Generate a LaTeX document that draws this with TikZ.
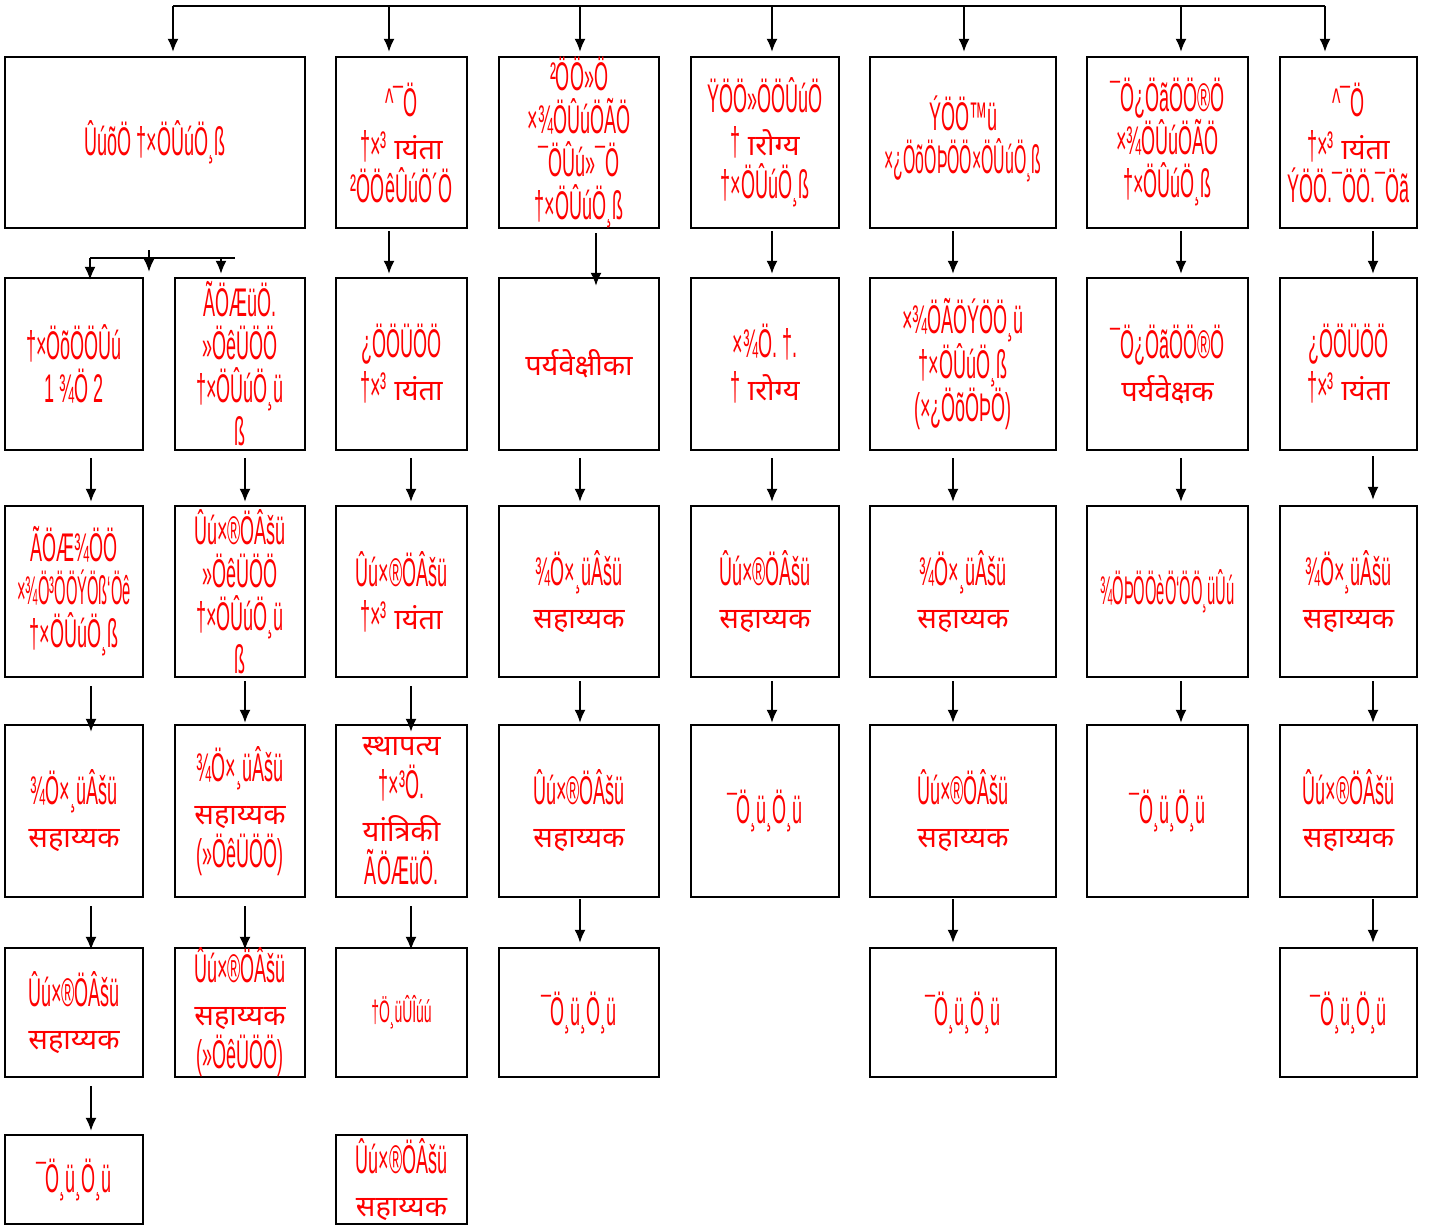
\documentclass[tikz,border=0pt]{standalone}
\usepackage{fontspec}
\setmainfont{Liberation Sans}[FakeStretch=0.45]
\newfontfamily\deva[Script=Devanagari]{Noto Sans}
\usetikzlibrary{arrows.meta}
\newcommand{\dv}[1]{{\deva\fontsize{29}{43}\selectfont #1}}
\newcommand{\dvm}[1]{{\deva\fontsize{29}{43}\selectfont ^^a0#1}}
\newcommand{\narrow}[1]{\scalebox{0.82}[1]{#1}}
\tikzset{
  box/.style={draw=black, line width=2.4pt, fill=white, inner sep=0pt},
  txt/.style={text=red, align=center, inner sep=0pt, font=\fontsize{40}{43}\selectfont},
  line/.style={draw=black, line width=1.6pt},
  arr/.style={line, -{Latex[length=13pt,width=11pt]}}
}
\begin{document}
\begin{tikzpicture}[x=1pt,y=-1pt]
\useasboundingbox[fill=white] (0,0) rectangle (1429,1225);
% ---------------- boxes ----------------
% row 1
\node[box, minimum width=300pt, minimum height=171pt] (r1a) at (155,142.5) {};
\node[box, minimum width=131pt, minimum height=171pt] (r1c) at (401.5,142.5) {};
\node[box, minimum width=160pt, minimum height=171pt] (r1d) at (579,142.5) {};
\node[box, minimum width=148pt, minimum height=171pt] (r1e) at (765,142.5) {};
\node[box, minimum width=186pt, minimum height=171pt] (r1f) at (963,142.5) {};
\node[box, minimum width=161pt, minimum height=171pt] (r1g) at (1167.5,142.5) {};
\node[box, minimum width=137pt, minimum height=171pt] (r1h) at (1348.5,142.5) {};
% row 2
\node[box, minimum width=138pt, minimum height=172pt] (r2a) at (74,364) {};
\node[box, minimum width=130pt, minimum height=172pt] (r2b) at (240,364) {};
\node[box, minimum width=131pt, minimum height=172pt] (r2c) at (401.5,364) {};
\node[box, minimum width=160pt, minimum height=172pt] (r2d) at (579,364) {};
\node[box, minimum width=148pt, minimum height=172pt] (r2e) at (765,364) {};
\node[box, minimum width=186pt, minimum height=172pt] (r2f) at (963,364) {};
\node[box, minimum width=161pt, minimum height=172pt] (r2g) at (1167.5,364) {};
\node[box, minimum width=137pt, minimum height=172pt] (r2h) at (1348.5,364) {};
% row 3
\node[box, minimum width=138pt, minimum height=171pt] (r3a) at (74,591.5) {};
\node[box, minimum width=130pt, minimum height=171pt] (r3b) at (240,591.5) {};
\node[box, minimum width=131pt, minimum height=171pt] (r3c) at (401.5,591.5) {};
\node[box, minimum width=160pt, minimum height=171pt] (r3d) at (579,591.5) {};
\node[box, minimum width=148pt, minimum height=171pt] (r3e) at (765,591.5) {};
\node[box, minimum width=186pt, minimum height=171pt] (r3f) at (963,591.5) {};
\node[box, minimum width=161pt, minimum height=171pt] (r3g) at (1167.5,591.5) {};
\node[box, minimum width=137pt, minimum height=171pt] (r3h) at (1348.5,591.5) {};
% row 4
\node[box, minimum width=138pt, minimum height=172pt] (r4a) at (74,811) {};
\node[box, minimum width=130pt, minimum height=172pt] (r4b) at (240,811) {};
\node[box, minimum width=131pt, minimum height=172pt] (r4c) at (401.5,811) {};
\node[box, minimum width=160pt, minimum height=172pt] (r4d) at (579,811) {};
\node[box, minimum width=148pt, minimum height=172pt] (r4e) at (765,811) {};
\node[box, minimum width=186pt, minimum height=172pt] (r4f) at (963,811) {};
\node[box, minimum width=161pt, minimum height=172pt] (r4g) at (1167.5,811) {};
\node[box, minimum width=137pt, minimum height=172pt] (r4h) at (1348.5,811) {};
% row 5
\node[box, minimum width=138pt, minimum height=129pt] (r5a) at (74,1012.5) {};
\node[box, minimum width=130pt, minimum height=129pt] (r5b) at (240,1012.5) {};
\node[box, minimum width=131pt, minimum height=129pt] (r5c) at (401.5,1012.5) {};
\node[box, minimum width=160pt, minimum height=129pt] (r5d) at (579,1012.5) {};
\node[box, minimum width=186pt, minimum height=129pt] (r5f) at (963,1012.5) {};
\node[box, minimum width=137pt, minimum height=129pt] (r5h) at (1348.5,1012.5) {};
% row 6
\node[box, minimum width=138pt, minimum height=89pt] (r6a) at (74,1179.5) {};
\node[box, minimum width=131pt, minimum height=89pt] (r6c) at (401.5,1179.5) {};
% ---------------- texts ----------------
\node[txt] (t1a) at (r1a) {ÛúõÖ †×ÖÛúÖ¸ß};
\node[txt] (t1c) at (r1c) {\textasciicircum¯Ö\\†×³\dvm{ायंता}\\²ÖÖêÛúÖ´Ö};
\node[txt] (t1d) at (r1d) {²ÖÖ»Ö\\×¾ÖÛúÖÃÖ\\¯ÖÛú»¯Ö\\†×ÖÛúÖ¸ß};
\node[txt] (t1e) at (r1e) {ŸÖÖ»ÖÖÛúÖ\\†\dvm{ारोग्य}\\†×ÖÛúÖ¸ß};
\node[txt] (t1f) at ([yshift=4pt]r1f) {ÝÖÖ™ü\\\scalebox{0.88}[1]{×¿ÖõÖÞÖÖ×ÖÛúÖ¸ß}};
\node[txt] (t1g) at (r1g) {¯Ö¿ÖãÖÖ®Ö\\×¾ÖÛúÖÃÖ\\†×ÖÛúÖ¸ß};
\node[txt] (t1h) at (r1h) {\textasciicircum¯Ö\\†×³\dvm{ायंता}\\ÝÖÖ.¯ÖÖ.¯Öã};
\node[txt] (t2a) at (r2a) {†×ÖõÖÖÛú\\1 ¾Ö 2};
\node[txt] (t2b) at (r2b) {ÃÖÆüÖ.\\»ÖêÜÖÖ\\†×ÖÛúÖ¸ü\\ß};
\node[txt] (t2c) at (r2c) {¿ÖÖÜÖÖ\\†×³\dvm{ायंता}};
\node[txt] (t2d) at (r2d) {\dv{पर्यवेक्षीका}};
\node[txt] (t2e) at (r2e) {×¾Ö. †.\\†\dvm{ारोग्य}};
\node[txt] (t2f) at (r2f) {×¾ÖÃÖÝÖÖ¸ü\\†×ÖÛúÖ¸ß\\(×¿ÖõÖÞÖ)};
\node[txt] (t2g) at (r2g) {¯Ö¿ÖãÖÖ®Ö\\\dv{पर्यवेक्षक}};
\node[txt] (t2h) at (r2h) {¿ÖÖÜÖÖ\\†×³\dvm{ायंता}};
\node[txt] (t3a) at (r3a) {ÃÖÆ¾ÖÖ\\\narrow{×¾Ö³ÖÖÝÖß‘Öê}\\†×ÖÛúÖ¸ß};
\node[txt] (t3b) at (r3b) {Ûú×®ÖÂšü\\»ÖêÜÖÖ\\†×ÖÛúÖ¸ü\\ß};
\node[txt] (t3c) at (r3c) {Ûú×®ÖÂšü\\†×³\dvm{ायंता}};
\node[txt] (t3d) at (r3d) {¾Ö×{}^^b8üÂšü\\\dv{सहाय्यक}};
\node[txt] (t3e) at (r3e) {Ûú×®ÖÂšü\\\dv{सहाय्यक}};
\node[txt] (t3f) at (r3f) {¾Ö×{}^^b8üÂšü\\\dv{सहाय्यक}};
\node[txt] (t3g) at (r3g) {\narrow{¾ÖÞÖÖèÖ‘ÖÖ¸üÛú}};
\node[txt] (t3h) at (r3h) {¾Ö×{}^^b8üÂšü\\\dv{सहाय्यक}};
\node[txt] (t4a) at (r4a) {¾Ö×{}^^b8üÂšü\\\dv{सहाय्यक}};
\node[txt] (t4b) at (r4b) {¾Ö×{}^^b8üÂšü\\\dv{सहाय्यक}\\(»ÖêÜÖÖ)};
\node[txt] (t4c) at (r4c) {\dv{स्थापत्य}\\†×³Ö.\\\dv{यांत्रिकी}\\ÃÖÆüÖ.};
\node[txt] (t4d) at (r4d) {Ûú×®ÖÂšü\\\dv{सहाय्यक}};
\node[txt] (t4e) at (r4e) {¯Ö¸ü¸Ö¸ü};
\node[txt] (t4f) at (r4f) {Ûú×®ÖÂšü\\\dv{सहाय्यक}};
\node[txt] (t4g) at (r4g) {¯Ö¸ü¸Ö¸ü};
\node[txt] (t4h) at (r4h) {Ûú×®ÖÂšü\\\dv{सहाय्यक}};
\node[txt] (t5a) at (r5a) {Ûú×®ÖÂšü\\\dv{सहाय्यक}};
\node[txt] (t5b) at (r5b) {Ûú×®ÖÂšü\\\dv{सहाय्यक}\\(»ÖêÜÖÖ)};
\node[txt, font=\fontsize{31}{36}\selectfont] (t5c) at (r5c) {†Ö¸üÛÎúú};
\node[txt] (t5d) at (r5d) {¯Ö¸ü¸Ö¸ü};
\node[txt] (t5f) at (r5f) {¯Ö¸ü¸Ö¸ü};
\node[txt] (t5h) at (r5h) {¯Ö¸ü¸Ö¸ü};
\node[txt] (t6a) at (r6a) {¯Ö¸ü¸Ö¸ü};
\node[txt] (t6c) at (r6c) {Ûú×®ÖÂšü\\\dv{सहाय्यक}};
% ---------------- connectors ----------------
\coordinate (busL) at (173,6);
\coordinate (busR) at (1325,6);
\draw[line] (busL) -- (busR);
\draw[arr] (busL) -- ([xshift=18pt,yshift=4pt]r1a.north);
\draw[arr] ([xshift=-12.5pt]r1c.north |- busL) -- ([xshift=-12.5pt,yshift=4pt]r1c.north);
\draw[arr] ([xshift=1pt]r1d.north |- busL) -- ([xshift=1pt,yshift=4pt]r1d.north);
\draw[arr] ([xshift=7pt]r1e.north |- busL) -- ([xshift=7pt,yshift=4pt]r1e.north);
\draw[arr] ([xshift=1pt]r1f.north |- busL) -- ([xshift=1pt,yshift=4pt]r1f.north);
\draw[arr] ([xshift=13.5pt]r1g.north |- busL) -- ([xshift=13.5pt,yshift=4pt]r1g.north);
\draw[arr] (busR) -- ([xshift=-23.5pt,yshift=4pt]r1h.north);
% row 1 -> row 2, first column pair
\coordinate (sL) at (90,258);
\coordinate (sR) at (235,258);
\coordinate (sM) at (149,250);
\coordinate (sB) at (221,258);
\draw[line] (sL) -- (sR);
\draw[arr] (sL) -- ([xshift=16pt,yshift=-3pt]r2a.north);
\draw[arr] (sM) -- ([xshift=75pt,yshift=5pt]r2a.north);
\draw[arr] (sB) -- ([xshift=-19pt,yshift=3pt]r2b.north);
% row 1 -> row 2
\draw[arr] ([xshift=-12.5pt,yshift=-2pt]r1c.south) -- ([xshift=-12.5pt,yshift=3pt]r2c.north);
\draw[arr] ([xshift=17pt,yshift=-4pt]r1d.south) -- ([xshift=17pt,yshift=-9pt]r2d.north);
\draw[arr] ([xshift=7pt,yshift=-2pt]r1e.south) -- ([xshift=7pt,yshift=3pt]r2e.north);
\draw[arr] ([xshift=-10pt,yshift=-2pt]r1f.south) -- ([xshift=-10pt,yshift=3pt]r2f.north);
\draw[arr] ([xshift=13.5pt,yshift=-2pt]r1g.south) -- ([xshift=13.5pt,yshift=3pt]r2g.north);
\draw[arr] ([xshift=24.5pt,yshift=-2pt]r1h.south) -- ([xshift=24.5pt,yshift=3pt]r2h.north);
% row 2 -> row 3
\draw[arr] ([xshift=17pt,yshift=-7pt]r2a.south) -- ([xshift=17pt,yshift=3pt]r3a.north);
\draw[arr] ([xshift=5pt,yshift=-7pt]r2b.south) -- ([xshift=5pt,yshift=3pt]r3b.north);
\draw[arr] ([xshift=9.5pt,yshift=-7pt]r2c.south) -- ([xshift=9.5pt,yshift=3pt]r3c.north);
\draw[arr] ([xshift=1pt,yshift=-7pt]r2d.south) -- ([xshift=1pt,yshift=3pt]r3d.north);
\draw[arr] ([xshift=7pt,yshift=-7pt]r2e.south) -- ([xshift=7pt,yshift=3pt]r3e.north);
\draw[arr] ([xshift=-10pt,yshift=-7pt]r2f.south) -- ([xshift=-10pt,yshift=3pt]r3f.north);
\draw[arr] ([xshift=13.5pt,yshift=-7pt]r2g.south) -- ([xshift=13.5pt,yshift=3pt]r3g.north);
\draw[arr] ([xshift=24.5pt,yshift=-5pt]r2h.south) -- ([xshift=24.5pt,yshift=5pt]r3h.north);
% row 3 -> row 4
\draw[arr] ([xshift=17pt,yshift=-8pt]r3a.south) -- ([xshift=17pt,yshift=-8pt]r4a.north);
\draw[arr] ([xshift=5pt,yshift=-3pt]r3b.south) -- ([xshift=5pt,yshift=1pt]r4b.north);
\draw[arr] ([xshift=9.5pt,yshift=-8pt]r3c.south) -- ([xshift=9.5pt,yshift=-8pt]r4c.north);
\draw[arr] ([xshift=1pt,yshift=-3pt]r3d.south) -- ([xshift=1pt,yshift=1pt]r4d.north);
\draw[arr] ([xshift=7pt,yshift=-3pt]r3e.south) -- ([xshift=7pt,yshift=1pt]r4e.north);
\draw[arr] ([xshift=-10pt,yshift=-3pt]r3f.south) -- ([xshift=-10pt,yshift=1pt]r4f.north);
\draw[arr] ([xshift=13.5pt,yshift=-3pt]r3g.south) -- ([xshift=13.5pt,yshift=1pt]r4g.north);
\draw[arr] ([xshift=24.5pt,yshift=-3pt]r3h.south) -- ([xshift=24.5pt,yshift=1pt]r4h.north);
% row 4 -> row 5
\draw[arr] ([xshift=17pt,yshift=-8pt]r4a.south) -- ([xshift=17pt,yshift=-3pt]r5a.north);
\draw[arr] ([xshift=5pt,yshift=-8pt]r4b.south) -- ([xshift=5pt,yshift=-3pt]r5b.north);
\draw[arr] ([xshift=9.5pt,yshift=-8pt]r4c.south) -- ([xshift=9.5pt,yshift=-3pt]r5c.north);
\draw[arr] ([xshift=1pt,yshift=-1pt]r4d.south) -- ([xshift=1pt,yshift=4pt]r5d.north);
\draw[arr] ([xshift=-10pt,yshift=-1pt]r4f.south) -- ([xshift=-10pt,yshift=4pt]r5f.north);
\draw[arr] ([xshift=24.5pt,yshift=-1pt]r4h.south) -- ([xshift=24.5pt,yshift=4pt]r5h.north);
% row 5 -> row 6
\draw[arr] ([xshift=17pt,yshift=-8pt]r5a.south) -- ([xshift=17pt,yshift=3pt]r6a.north);
\end{tikzpicture}
\end{document}
